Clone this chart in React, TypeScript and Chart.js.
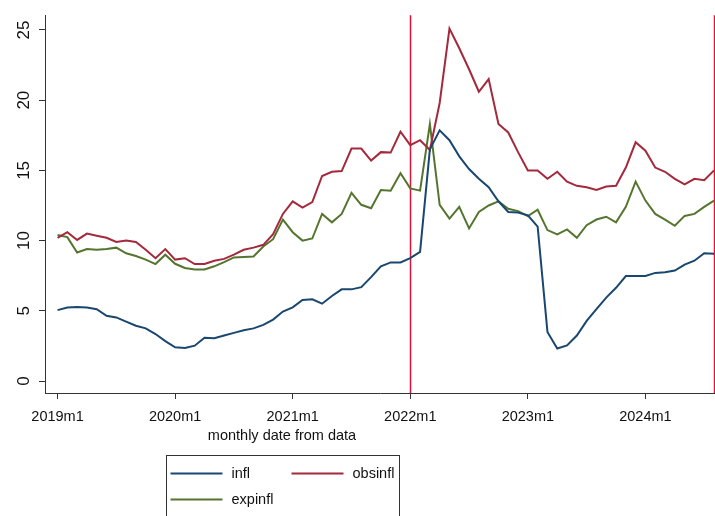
import { useEffect, useRef } from 'react';
import { Chart, registerables } from 'chart.js';

Chart.register(...registerables);

// Monthly series, 2019m1 .. 2024m8 (one value per month)
const infl = [
  5.05, 5.23, 5.28, 5.23, 5.12, 4.65, 4.53, 4.23, 3.94, 3.75, 3.35, 2.84,
  2.4, 2.35, 2.52, 3.08, 3.05, 3.24, 3.43, 3.62, 3.75, 4.0, 4.38, 4.95,
  5.25, 5.77, 5.82, 5.51, 6.06, 6.53, 6.53, 6.69, 7.4, 8.17, 8.45, 8.45,
  8.75, 9.2, 16.5, 17.85, 17.15, 16.0, 15.1, 14.4, 13.8, 12.8, 12.04, 12.0,
  11.8, 11.0, 3.5, 2.32, 2.54, 3.24, 4.28, 5.12, 5.94, 6.64, 7.48, 7.48,
  7.48, 7.7, 7.75, 7.87, 8.29, 8.57, 9.1, 9.06,
];

const obsinfl = [
  10.2, 10.6, 10.05, 10.5, 10.35, 10.2, 9.9, 10.0, 9.9, 9.35, 8.75, 9.4,
  8.65, 8.75, 8.33, 8.33, 8.57, 8.7, 9.0, 9.35, 9.5, 9.7, 10.45, 11.9,
  12.8, 12.35, 12.75, 14.6, 14.9, 14.95, 16.55, 16.55, 15.7, 16.3, 16.27, 17.75,
  16.8, 17.15, 16.45, 19.8, 25.1, 23.7, 22.2, 20.6, 21.5, 18.3, 17.7, 16.3,
  15.0, 15.0, 14.4, 14.9, 14.2, 13.9, 13.8, 13.6, 13.85, 13.9, 15.2, 17.0,
  16.4, 15.2, 14.9, 14.4, 14.0, 14.4, 14.3, 15.0,
];

const expinfl = [
  10.4, 10.25, 9.15, 9.4, 9.35, 9.4, 9.5, 9.1, 8.9, 8.65, 8.33, 9.0,
  8.35, 8.05, 7.94, 7.94, 8.17, 8.47, 8.8, 8.83, 8.87, 9.58, 10.1, 11.5,
  10.6, 10.0, 10.15, 11.9, 11.3, 11.9, 13.4, 12.55, 12.3, 13.6, 13.55, 14.8,
  13.72, 13.56, 18.3, 12.55, 11.57, 12.4, 10.87, 12.04, 12.5, 12.8, 12.27, 12.1,
  11.75, 12.2, 10.75, 10.45, 10.8, 10.2, 11.1, 11.5, 11.7, 11.3, 12.4, 14.2,
  12.85, 11.9, 11.5, 11.06, 11.76, 11.9, 12.4, 12.85,
];

// x-axis ticks: month index from 2019m1 and the label shown there
const xTickMonths = [0, 12, 24, 36, 48, 60];
const xTickLabels = ['2019m1', '2020m1', '2021m1', '2022m1', '2023m1', '2024m1'];
const yTicks = [0, 5, 10, 15, 20, 25];

// reference lines: 2022m1 and 2024m8
const xLines = [36, 67];

const seriesNames = ['infl', 'obsinfl', 'expinfl'];
const seriesColors = ['#1a476f', '#a3293b', '#55752f'];

const xTitle = 'monthly date from data';
const FONT = '"Liberation Sans", Arial, Helvetica, sans-serif';

const toPoints = (arr: number[]) => arr.map((v, i) => ({ x: i, y: v }));

const decorPlugin = {
  id: 'decor',
  beforeDatasetsDraw(chart: any) {
    const { ctx, chartArea, scales } = chart;
    ctx.save();
    ctx.strokeStyle = '#dc143c';
    ctx.lineWidth = 1.5;
    for (const m of xLines) {
      const x = Math.round(scales.x.getPixelForValue(m)) + 0.5;
      ctx.beginPath();
      ctx.moveTo(x, chartArea.top);
      ctx.lineTo(x, chartArea.bottom);
      ctx.stroke();
    }
    ctx.restore();
  },
  afterDraw(chart: any) {
    const { ctx } = chart;
    const cx = 282;
    ctx.save();
    ctx.fillStyle = '#111';
    ctx.font = `14.5px ${FONT}`;
    ctx.textAlign = 'center';
    ctx.textBaseline = 'middle';
    ctx.fillText(xTitle, cx, 435.5);

    // legend box, two columns
    const boxW = 233;
    const left = cx - boxW / 2;
    const top = 455;
    ctx.strokeStyle = '#333';
    ctx.lineWidth = 1;
    ctx.strokeRect(Math.round(left) + 0.5, top + 0.5, boxW, 90);
    ctx.textAlign = 'left';
    ctx.font = `14.5px ${FONT}`;
    chart.data.datasets.forEach((ds: any, k: number) => {
      const col = k % 2;
      const row = Math.floor(k / 2);
      const x0 = left + 5 + col * 121;
      const y = top + 18.5 + row * 26;
      ctx.strokeStyle = ds.borderColor;
      ctx.lineWidth = 2;
      ctx.beginPath();
      ctx.moveTo(x0, y);
      ctx.lineTo(x0 + 52, y);
      ctx.stroke();
      ctx.fillStyle = '#111';
      ctx.fillText(ds.label, x0 + 61, y);
    });
    ctx.restore();
  },
};

export default function App() {
  const ref = useRef<HTMLCanvasElement>(null);

  useEffect(() => {
    if (!ref.current) return;
    const series = [infl, obsinfl, expinfl];
    const chart = new Chart(ref.current, {
      type: 'line',
      data: {
        datasets: series.map((arr, k) => ({
          label: seriesNames[k],
          data: toPoints(arr),
          borderColor: seriesColors[k],
          backgroundColor: seriesColors[k],
          borderWidth: 2,
          pointRadius: 0,
          tension: 0,
          fill: false,
        })),
      },
      options: {
        animation: false,
        responsive: false,
        devicePixelRatio: 1,
        layout: { padding: { top: 11, right: 0, bottom: 0, left: 0 } },
        plugins: {
          legend: { display: false },
          tooltip: { enabled: false },
        },
        scales: {
          x: {
            type: 'linear',
            min: -1.28,
            max: 67.1,
            afterBuildTicks: (s: any) => {
              s.ticks = xTickMonths.map((v) => ({ value: v }));
            },
            afterFit: (s: any) => {
              s.height = 123;
            },
            ticks: {
              callback: (v: any) => xTickLabels[xTickMonths.indexOf(Number(v))] ?? '',
              font: { family: FONT, size: 14.5 },
              color: '#111',
              padding: 9,
              maxRotation: 0,
              minRotation: 0,
              autoSkip: false,
            },
            grid: { drawOnChartArea: false, drawTicks: true, tickLength: 6, color: '#333' },
            border: { color: '#333', width: 1 },
          },
          y: {
            type: 'linear',
            min: -0.85,
            max: 26.05,
            afterBuildTicks: (s: any) => {
              s.ticks = yTicks.map((v) => ({ value: v }));
            },
            afterFit: (s: any) => {
              s.width = 45;
            },
            ticks: {
              font: { family: FONT, size: 17 },
              color: '#111',
              minRotation: 90,
              maxRotation: 90,
              crossAlign: 'center',
              padding: 5,
            },
            grid: { drawOnChartArea: false, drawTicks: true, tickLength: 6, color: '#333' },
            border: { color: '#333', width: 1 },
          },
        },
      },
      plugins: [decorPlugin],
    });
    return () => chart.destroy();
  }, []);

  return (
    <div style={{ position: 'absolute', left: 0, top: 0, width: 715, height: 516, background: '#fff' }}>
      <canvas ref={ref} width={715} height={516} style={{ display: 'block' }} />
    </div>
  );
}
